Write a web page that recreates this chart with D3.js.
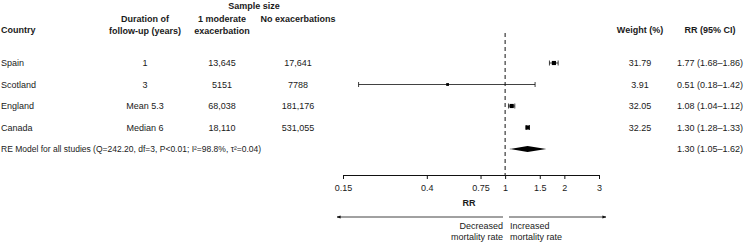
<!DOCTYPE html>
<html>
<head>
<meta charset="utf-8">
<script src="https://cdn.jsdelivr.net/npm/d3@7"></script>
<style>
  body { margin: 0; background: #fff; }
  svg text { font-family: "Liberation Sans", Arial, sans-serif; fill: #1a1a1a; }
</style>
</head>
<body>
<div id="chart"></div>
<script>
// study data
const countries = ["Spain", "Scotland", "England", "Canada"];
const durations = ["1", "3", "Mean 5.3", "Median 6"];
const moderateExac = ["13,645", "5151", "68,038", "18,110"];
const noExac = ["17,641", "7788", "181,176", "531,055"];
const weights = [31.79, 3.91, 32.05, 32.25];
const rr = [1.77, 0.51, 1.08, 1.30];
const rrLow = [1.68, 0.18, 1.04, 1.28];
const rrHigh = [1.86, 1.42, 1.12, 1.33];

const summary = { rr: 1.30, low: 1.05, high: 1.62 };
const summaryLabel = "RE Model for all studies (Q=242.20, df=3, P<0.01; I\u00b2=98.8%, \u03c4\u00b2=0.04)";

const ticks = [0.15, 0.4, 0.75, 1, 1.5, 2, 3];

const width = 744, height = 243;

const svg = d3.select("#chart").append("svg")
    .attr("width", width)
    .attr("height", height);

// log scale for RR, rows on a point scale
let x = d3.scaleLog().domain([0.15, 3]).range([343, 599]);
let y = d3.scalePoint().domain(d3.range(5)).range([63, 149]);
let boxSize = d3.scaleLinear().domain([0, 33]).range([1.3, 2.1]);

let fmt = d3.format(".2f");

// header
let header = svg.append("g").attr("font-size", 9).attr("font-weight", "bold");
header.append("text").attr("x", 254).attr("y", 9).attr("text-anchor", "middle").text("Sample size");
header.append("text").attr("x", 1).attr("y", 33).text("Country");
header.append("text").attr("x", 145).attr("y", 22).attr("text-anchor", "middle").text("Duration of");
header.append("text").attr("x", 145).attr("y", 34).attr("text-anchor", "middle").text("follow-up (years)");
header.append("text").attr("x", 222).attr("y", 22).attr("text-anchor", "middle").text("1 moderate");
header.append("text").attr("x", 222).attr("y", 34).attr("text-anchor", "middle").text("exacerbation");
header.append("text").attr("x", 298).attr("y", 22).attr("text-anchor", "middle").text("No exacerbations");
header.append("text").attr("x", 640).attr("y", 33).attr("text-anchor", "middle").text("Weight (%)");
header.append("text").attr("x", 710).attr("y", 33).attr("text-anchor", "middle").text("RR (95% CI)");

// table columns
let rows = svg.append("g").attr("font-size", 9)
    .selectAll("g")
    .data(countries)
    .join("g")
    .attr("transform", (d, i) => `translate(0, ${y(i) + 3})`);

rows.append("text").attr("x", 1).text(d => d);
rows.append("text").attr("x", 145).attr("text-anchor", "middle").text((d, i) => durations[i]);
rows.append("text").attr("x", 222).attr("text-anchor", "middle").text((d, i) => moderateExac[i]);
rows.append("text").attr("x", 298).attr("text-anchor", "middle").text((d, i) => noExac[i]);
rows.append("text").attr("x", 640).attr("text-anchor", "middle").text((d, i) => fmt(weights[i]));
rows.append("text").attr("x", 710).attr("text-anchor", "middle")
    .text((d, i) => `${fmt(rr[i])} (${fmt(rrLow[i])}\u2013${fmt(rrHigh[i])})`);

// summary row text
svg.append("text").attr("x", 1).attr("y", y(4) + 3).attr("font-size", 8.5).text(summaryLabel);
svg.append("text").attr("x", 710).attr("y", y(4) + 3).attr("font-size", 9).attr("text-anchor", "middle")
    .text(`${fmt(summary.rr)} (${fmt(summary.low)}\u2013${fmt(summary.high)})`);

// reference line at RR = 1
svg.append("line")
    .attr("x1", x(1)).attr("x2", x(1))
    .attr("y1", 33).attr("y2", 175)
    .attr("stroke", "#111").attr("stroke-width", 1)
    .attr("stroke-dasharray", "4,3");

// confidence intervals
let ci = svg.append("g").attr("stroke", "#111").attr("stroke-width", 0.8);
countries.forEach((c, i) => {
    ci.append("line").attr("x1", x(rrLow[i])).attr("x2", x(rrHigh[i]))
        .attr("y1", y(i)).attr("y2", y(i));
    [rrLow[i], rrHigh[i]].forEach(v => {
        ci.append("line").attr("x1", x(v)).attr("x2", x(v))
            .attr("y1", y(i) - 2.5).attr("y2", y(i) + 2.5);
    });
});

// point estimates
svg.append("g").selectAll("rect")
    .data(rr)
    .join("rect")
    .attr("x", (d, i) => x(d) - boxSize(weights[i]))
    .attr("y", (d, i) => y(i) - boxSize(weights[i]))
    .attr("width", (d, i) => 2 * boxSize(weights[i]))
    .attr("height", (d, i) => 2 * boxSize(weights[i]))
    .attr("fill", "#000");

// pooled estimate diamond
let yd = y(4);
svg.append("path")
    .attr("d", `M${x(summary.low)},${yd} L${x(summary.rr)},${yd - 3} L${x(summary.high)},${yd} L${x(summary.rr)},${yd + 3} Z`)
    .attr("fill", "#000");

// x axis
let axis = svg.append("g")
    .attr("transform", "translate(0, 175)")
    .call(d3.axisBottom(x).tickValues(ticks).tickFormat(d => d).tickSize(4).tickSizeOuter(0));
axis.select(".domain").attr("stroke", "#111");
axis.selectAll(".tick line").attr("stroke", "#111");
axis.selectAll(".tick text").attr("font-size", 9).attr("font-family", "Liberation Sans, Arial, sans-serif").attr("dy", "1em").attr("fill", "#1a1a1a");

svg.append("text").attr("x", 469).attr("y", 206).attr("font-size", 9).attr("font-weight", "bold")
    .attr("text-anchor", "middle").text("RR");

// direction arrows
let defs = svg.append("defs");
defs.append("marker")
    .attr("id", "arrow")
    .attr("viewBox", "0 0 10 10")
    .attr("refX", 9).attr("refY", 5)
    .attr("markerWidth", 5).attr("markerHeight", 5)
    .attr("orient", "auto-start-reverse")
    .append("path").attr("d", "M0,1.5 L10,5 L0,8.5 Z").attr("fill", "#111");

svg.append("line").attr("x1", 503).attr("x2", 337).attr("y1", 217).attr("y2", 217)
    .attr("stroke", "#111").attr("stroke-width", 0.8).attr("marker-end", "url(#arrow)");
svg.append("line").attr("x1", 509).attr("x2", 606).attr("y1", 217).attr("y2", 217)
    .attr("stroke", "#111").attr("stroke-width", 0.8).attr("marker-end", "url(#arrow)");

let notes = svg.append("g").attr("font-size", 9);
notes.append("text").attr("x", 503).attr("y", 229).attr("text-anchor", "end").text("Decreased");
notes.append("text").attr("x", 503).attr("y", 240).attr("text-anchor", "end").text("mortality rate");
notes.append("text").attr("x", 510).attr("y", 229).text("Increased");
notes.append("text").attr("x", 510).attr("y", 240).text("mortality rate");
</script>
</body>
</html>
